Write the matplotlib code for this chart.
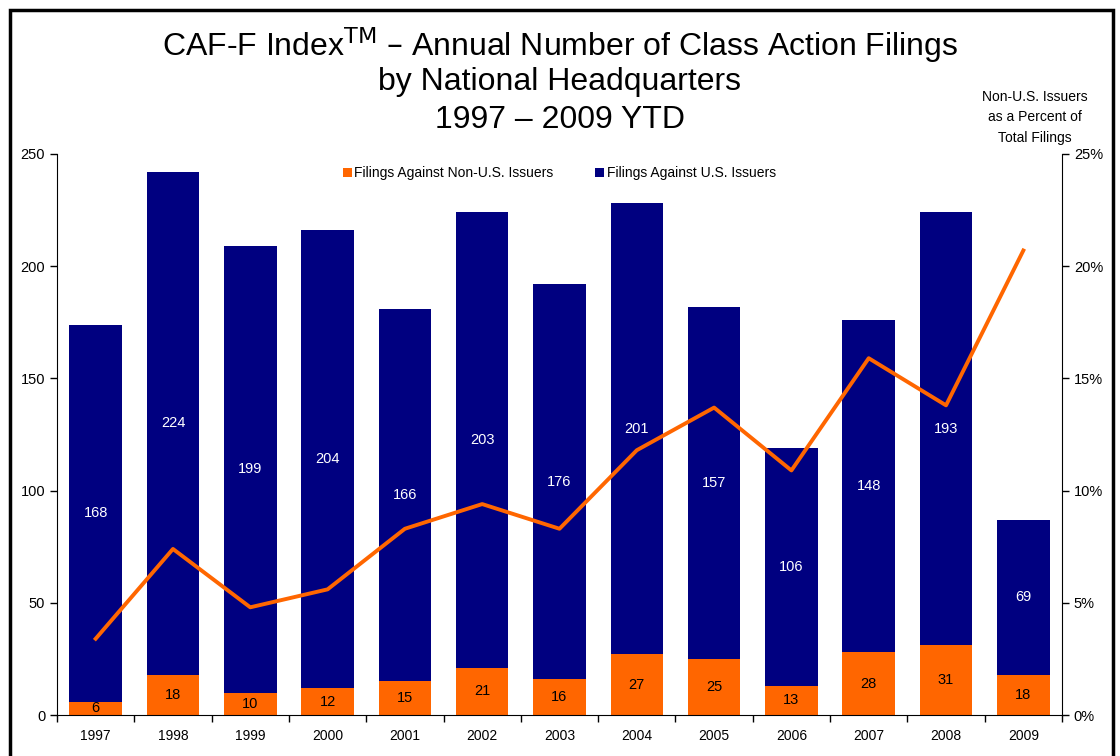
import numpy as np
import matplotlib.pyplot as plt
from matplotlib.patches import Rectangle
from matplotlib.ticker import FuncFormatter

plt.rcParams['font.family'] = ['Liberation Sans', 'DejaVu Sans']

years = ['1997', '1998', '1999', '2000', '2001', '2002', '2003',
         '2004', '2005', '2006', '2007', '2008', '2009']
non_us = [6, 18, 10, 12, 15, 21, 16, 27, 25, 13, 28, 31, 18]
us = [168, 224, 199, 204, 166, 203, 176, 201, 157, 106, 148, 193, 69]
pct_non_us = [3.4, 7.4, 4.8, 5.6, 8.3, 9.4, 8.3, 11.8, 13.7, 10.9, 15.9, 13.8, 20.7]

orange = '#FF6600'
navy = '#000080'

fig = plt.figure(figsize=(11.2, 7.56), dpi=100)
ax = fig.add_axes([0.0509, 0.0542, 0.8973, 0.7421])
x = np.arange(len(years))
w = 0.68

ax.bar(x, non_us, width=w, color=orange, label='Filings Against Non-U.S. Issuers', zorder=2)
ax.bar(x, us, width=w, bottom=non_us, color=navy, label='Filings Against U.S. Issuers', zorder=2)

for i in range(len(years)):
    ax.text(x[i], non_us[i] / 2, str(non_us[i]), ha='center', va='center',
            fontsize=10.5, color='black', zorder=3)
    ax.text(x[i], non_us[i] + us[i] / 2, str(us[i]), ha='center', va='center',
            fontsize=10.5, color='white', zorder=3)

ax.set_xlim(-0.5, len(years) - 0.5)
ax.set_ylim(0, 250)
ax.set_yticks(range(0, 251, 50))
ax.set_xticks(x)
ax.set_xticklabels(years)
ax.set_xticks(np.arange(-0.5, len(years), 1), minor=True)
ax.tick_params(axis='x', which='major', length=0, pad=10, labelsize=10)
ax.tick_params(axis='x', which='minor', length=5, width=1)
ax.tick_params(axis='y', length=5, width=1, labelsize=10.5)
ax.spines['top'].set_visible(False)
ax.spines['right'].set_visible(False)

ax2 = ax.twinx()
ax2.plot(x, pct_non_us, color=orange, linewidth=2.8, zorder=4)
ax2.set_ylim(0, 25)
ax2.set_yticks(range(0, 26, 5))
ax2.yaxis.set_major_formatter(FuncFormatter(lambda v, p: f'{int(v)}%'))
ax2.tick_params(axis='y', length=5, width=1, labelsize=10.5)
ax2.spines['top'].set_visible(False)
ax2.spines['left'].set_visible(False)
ax2.spines['bottom'].set_visible(False)

ax.legend(loc='upper center', bbox_to_anchor=(0.5, 1.0), ncol=2, frameon=False,
          fontsize=10, handlelength=0.6, handleheight=0.6, handletextpad=0.2,
          columnspacing=3.0)

fig.text(0.5, 0.94, 'CAF-F Index$^{\\mathrm{TM}}$ – Annual Number of Class Action Filings',
         ha='center', va='center', fontsize=23)
fig.text(0.5, 0.891, 'by National Headquarters', ha='center', va='center', fontsize=23)
fig.text(0.5, 0.841, '1997 – 2009 YTD', ha='center', va='center', fontsize=23)
fig.text(0.924, 0.845, 'Non-U.S. Issuers\nas a Percent of\nTotal Filings',
         ha='center', va='center', fontsize=10, linespacing=1.6)

fig.patches.append(Rectangle((0.009, -0.05), 0.985, 1.037, transform=fig.transFigure,
                             fill=False, edgecolor='black', linewidth=2.5))

fig.savefig('out.png', dpi=100)
